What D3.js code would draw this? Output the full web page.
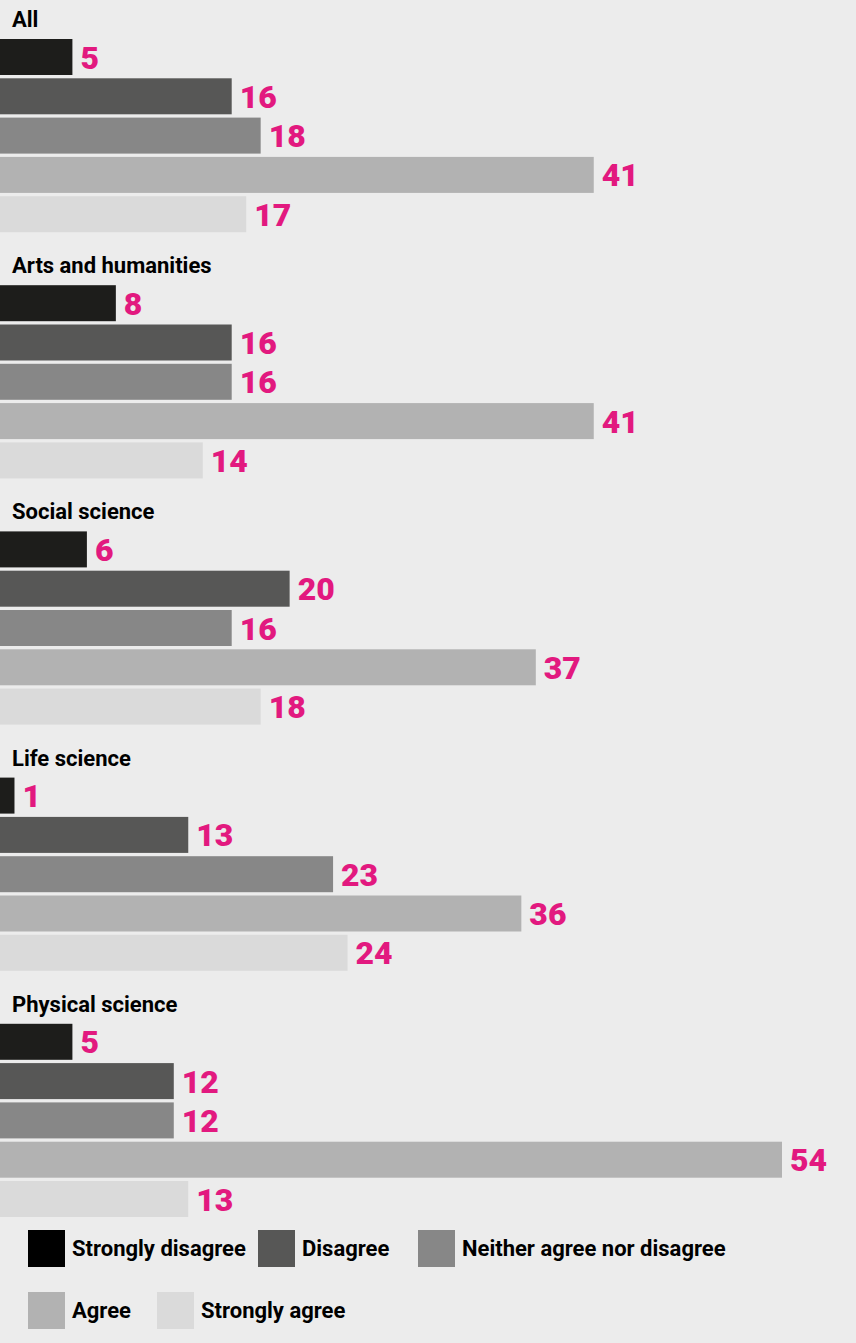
<!DOCTYPE html>
<html>
<head>
<meta charset="utf-8">
<script src="https://cdn.jsdelivr.net/npm/d3@7"></script>
<style>
  html, body { margin: 0; padding: 0; background: #ececec; }
  svg { display: block; font-family: Roboto, "Open Sans", sans-serif; }
  .group-title { font-size: 22px; font-weight: 700; fill: #000; }
  .value-label { font-size: 32px; font-weight: 900; fill: #e2197f; }
  .legend-label { font-size: 22px; font-weight: 700; fill: #000; }
</style>
</head>
<body>
<div id="chart"></div>
<script>
// Data (percent of respondents)
let groups    = ['All', 'Arts and humanities', 'Social science', 'Life science', 'Physical science'],
    responses = ['Strongly disagree', 'Disagree', 'Neither agree nor disagree', 'Agree', 'Strongly agree'],
    colours   = ['#1d1d1b', '#575756', '#878787', '#b2b2b2', '#dadada'];

let allValues      = [5, 16, 18, 41, 17],
    artsValues     = [8, 16, 16, 41, 14],
    socialValues   = [6, 20, 16, 37, 18],
    lifeValues     = [1, 13, 23, 36, 24],
    physicalValues = [5, 12, 12, 54, 13];

let valuesByGroup = [allValues, artsValues, socialValues, lifeValues, physicalValues];

let width  = 856,
    height = 1343;

let svg = d3.select('#chart').append('svg')
    .attr('width', width)
    .attr('height', height);

svg.append('rect')
    .attr('width', width)
    .attr('height', height)
    .attr('fill', '#ececec');

// Scales
let x = d3.scaleLinear()
    .domain([0, 54])
    .range([0, 782]);

let yGroup = d3.scaleBand()
    .domain(groups)
    .range([39, 39 + 246.2 * groups.length])
    .paddingInner(0)
    .paddingOuter(0);

// 5 bars of 36px on a 39.3px step
let yResp = d3.scaleBand()
    .domain(responses)
    .range([0, 4 * 39.3 + 36])
    .paddingInner(3.3 / 39.3)
    .paddingOuter(0);

let colour = d3.scaleOrdinal()
    .domain(responses)
    .range(colours);

// One group per category
let g = svg.selectAll('.group')
    .data(groups.map((name, i) => ({ name: name, values: valuesByGroup[i] })))
    .enter()
    .append('g')
    .attr('class', 'group')
    .attr('transform', (d) => 'translate(0,' + yGroup(d.name) + ')');

g.append('text')
    .attr('class', 'group-title')
    .attr('x', 12)
    .attr('y', -12)
    .text((d) => d.name);

let rows = g.selectAll('.row')
    .data((d) => d.values.map((v, i) => ({ response: responses[i], value: v })))
    .enter()
    .append('g')
    .attr('class', 'row');

rows.append('rect')
    .attr('x', 0)
    .attr('y', (d) => yResp(d.response))
    .attr('width', (d) => x(d.value))
    .attr('height', yResp.bandwidth())
    .attr('fill', (d) => colour(d.response));

rows.append('text')
    .attr('class', 'value-label')
    .attr('x', (d) => x(d.value) + 8)
    .attr('y', (d) => yResp(d.response) + yResp.bandwidth() / 2)
    .attr('dy', '0.36em')
    .text((d) => d.value);

// Legend
let legendItems = [
  { response: responses[0], x: 28,  y: 1230 },
  { response: responses[1], x: 258, y: 1230 },
  { response: responses[2], x: 418, y: 1230 },
  { response: responses[3], x: 28,  y: 1292 },
  { response: responses[4], x: 157, y: 1292 }
];

let legend = svg.append('g').attr('class', 'legend')
    .selectAll('g')
    .data(legendItems)
    .enter()
    .append('g')
    .attr('transform', (d) => 'translate(' + d.x + ',' + d.y + ')');

legend.append('rect')
    .attr('width', 37)
    .attr('height', 37)
    .attr('fill', (d) => d.response === responses[0] ? '#000' : colour(d.response));

legend.append('text')
    .attr('class', 'legend-label')
    .attr('x', 44)
    .attr('y', 18.5)
    .attr('dy', '0.35em')
    .text((d) => d.response);
</script>
</body>
</html>
